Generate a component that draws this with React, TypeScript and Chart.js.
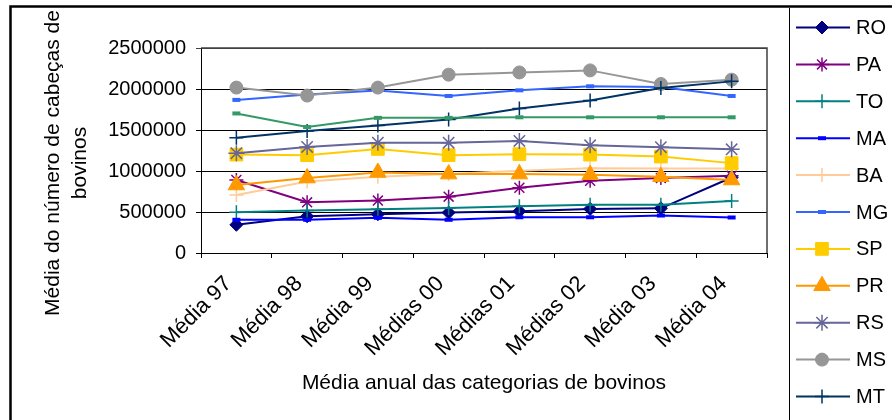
import React, { useEffect, useRef } from "react";
import { Chart, registerables, PointElement } from "chart.js";

Chart.register(...registerables);

const categories = ["Média 97", "Média 98", "Média 99", "Médias 00", "Médias 01", "Médias 02", "Média 03", "Média 04"];
const seriesNames = ["RO", "PA", "TO", "MA", "BA", "MG", "SP", "PR", "RS", "MS", "MT", "GO"];

const RO = [344000, 448000, 473000, 493000, 509000, 538000, 545000, 921000];
const PA = [890000, 618000, 639000, 687000, 796000, 881000, 914000, 942000];
const TO = [497000, 518000, 533000, 550000, 570000, 587000, 587000, 635000];
const MA = [405000, 405000, 429000, 405000, 436000, 436000, 457000, 433000];
const BA = [708000, 873000, 930000, 962000, 1002000, 1035000, 1030000, 1030000];
const MG = [1867000, 1932000, 1981000, 1915000, 1984000, 2033000, 2024000, 1915000];
const SP = [1200000, 1193000, 1269000, 1193000, 1205000, 1200000, 1176000, 1096000];
const PR = [829000, 914000, 982000, 962000, 962000, 954000, 930000, 890000];
const RS = [1217000, 1293000, 1345000, 1345000, 1366000, 1314000, 1290000, 1265000];
const MS = [2017000, 1920000, 2017000, 2175000, 2202000, 2227000, 2061000, 2114000];
const MT = [1406000, 1487000, 1556000, 1629000, 1762000, 1859000, 2012000, 2093000];
const GO = [1702000, 1536000, 1648000, 1648000, 1655000, 1655000, 1655000, 1655000];

const seriesValues = [RO, PA, TO, MA, BA, MG, SP, PR, RS, MS, MT, GO];

const yTicks = [0, 500000, 1000000, 1500000, 2000000, 2500000];

const yTitleLines = ["Média do número de cabeças de", "bovinos"];
const xTitle = "Média anual das categorias de bovinos";

const colors = ["#000080", "#800080", "#008080", "#0000FF", "#FFCC99", "#3366FF", "#FFCC00", "#FF9900", "#666699", "#969696", "#003366", "#339966"];
const pointStyles = ["rectRot", "star", "cross", "line", "cross", "line", "rect", "triangle", "star", "circle", "cross", "line"];
const pointRadii = [6.5, 7, 7, 4, 7, 4, 9, 9.5, 8, 6.5, 7, 4];
const pointBorderWidths = [1, 1.5, 1.5, 4, 1.5, 4, 1, 1, 1.5, 1, 1.5, 4];

const FONT = "'Liberation Sans', Arial, sans-serif";

const decorPlugin = {
  id: "decor",
  beforeDatasetsDraw(chart: any) {
    const { ctx, chartArea } = chart;
    ctx.save();
    ctx.strokeStyle = "#404040";
    ctx.lineWidth = 1.5;
    ctx.beginPath();
    ctx.moveTo(chartArea.left, chartArea.top);
    ctx.lineTo(chartArea.right, chartArea.top);
    ctx.lineTo(chartArea.right, chartArea.bottom);
    ctx.stroke();
    ctx.restore();
  },
  afterDraw(chart: any) {
    const { ctx, chartArea } = chart;
    ctx.save();
    // y title
    ctx.fillStyle = "#000";
    ctx.font = `21px ${FONT}`;
    ctx.textAlign = "center";
    ctx.textBaseline = "alphabetic";
    const baseX = [59, 85.5];
    yTitleLines.forEach((t, i) => {
      ctx.save();
      ctx.translate(baseX[i], 163);
      ctx.rotate(-Math.PI / 2);
      ctx.fillText(t, 0, 0);
      ctx.restore();
    });
    // x title
    ctx.textBaseline = "alphabetic";
    ctx.fillText(xTitle, (chartArea.left + chartArea.right) / 2, 389);

    // legend box
    ctx.strokeStyle = "#000";
    ctx.lineWidth = 1;
    ctx.beginPath();
    ctx.moveTo(789.5, 8);
    ctx.lineTo(789.5, 470);
    ctx.stroke();

    chart.data.datasets.forEach((ds: any, i: number) => {
      const y = 27.5 + i * 36.9;
      ctx.strokeStyle = ds.borderColor;
      ctx.lineWidth = 2;
      ctx.beginPath();
      ctx.moveTo(796, y);
      ctx.lineTo(850, y);
      ctx.stroke();
      const meta = chart.getDatasetMeta(i);
      const opts = meta.data[0].options;
      const p: any = new PointElement({ x: 822, y, options: opts, skip: false } as any);
      p.draw(ctx);
      ctx.fillStyle = "#000";
      ctx.font = `20px ${FONT}`;
      ctx.textAlign = "left";
      ctx.textBaseline = "middle";
      ctx.fillText(ds.label, 856, y + 1);
    });

    // outer frame
    ctx.strokeStyle = "#000";
    ctx.lineWidth = 2.5;
    ctx.beginPath();
    ctx.moveTo(10.5, 470);
    ctx.lineTo(10.5, 6.5);
    ctx.lineTo(900, 6.5);
    ctx.stroke();
    ctx.restore();
  },
};

export default function App() {
  const ref = useRef<HTMLCanvasElement | null>(null);
  useEffect(() => {
    if (!ref.current) return;
    const n = seriesNames.length;
    const chart = new Chart(ref.current, {
      type: "line",
      data: {
        labels: categories,
        datasets: seriesNames.map((name, i) => ({
          label: name,
          data: seriesValues[i],
          borderColor: colors[i],
          backgroundColor: colors[i],
          borderWidth: 2,
          pointStyle: pointStyles[i] as any,
          pointRadius: pointRadii[i],
          pointBorderWidth: pointBorderWidths[i],
          pointBackgroundColor: colors[i],
          pointBorderColor: colors[i],
          tension: 0,
          fill: false,
          order: n - i,
        })),
      },
      options: {
        responsive: false,
        animation: false,
        devicePixelRatio: 1,
        layout: { padding: { left: 0, top: 48, right: 125, bottom: 0 } },
        plugins: {
          legend: { display: false },
          tooltip: { enabled: false },
          title: { display: false },
        },
        scales: {
          x: {
            type: "category",
            offset: true,
            grid: { offset: true, drawOnChartArea: false, drawTicks: true, tickLength: 5, color: "#000", lineWidth: 1 },
            border: { display: true, color: "#000", width: 1 },
            ticks: {
              font: { family: FONT, size: 22 },
              color: "#000",
              minRotation: 45,
              maxRotation: 45,
              autoSkip: false,
              padding: 13,
              labelOffset: -8,
            },
            afterFit: (s: any) => {
              s.height = 207;
            },
          },
          y: {
            min: 0,
            max: 2500000,
            afterBuildTicks: (s: any) => {
              s.ticks = yTicks.map((v) => ({ value: v }));
            },
            grid: {
              drawTicks: true,
              tickLength: 5,
              lineWidth: 1,
              color: (c: any) => (c.tick && c.tick.value === 2500000 ? "#404040" : "#000"),
            },
            border: { display: true, color: "#000", width: 1 },
            ticks: {
              font: { family: FONT, size: 20 },
              color: "#000",
              padding: 10,
              callback: (v: any) => String(v),
            },
            afterFit: (s: any) => {
              s.width = 201;
            },
          },
        },
      },
      plugins: [decorPlugin],
    });
    return () => chart.destroy();
  }, []);
  return (
    <div style={{ position: "fixed", left: 0, top: 0, width: 892, height: 420, overflow: "hidden", background: "#fff" }}>
      <canvas ref={ref} width={892} height={460} style={{ display: "block" }} />
    </div>
  );
}
